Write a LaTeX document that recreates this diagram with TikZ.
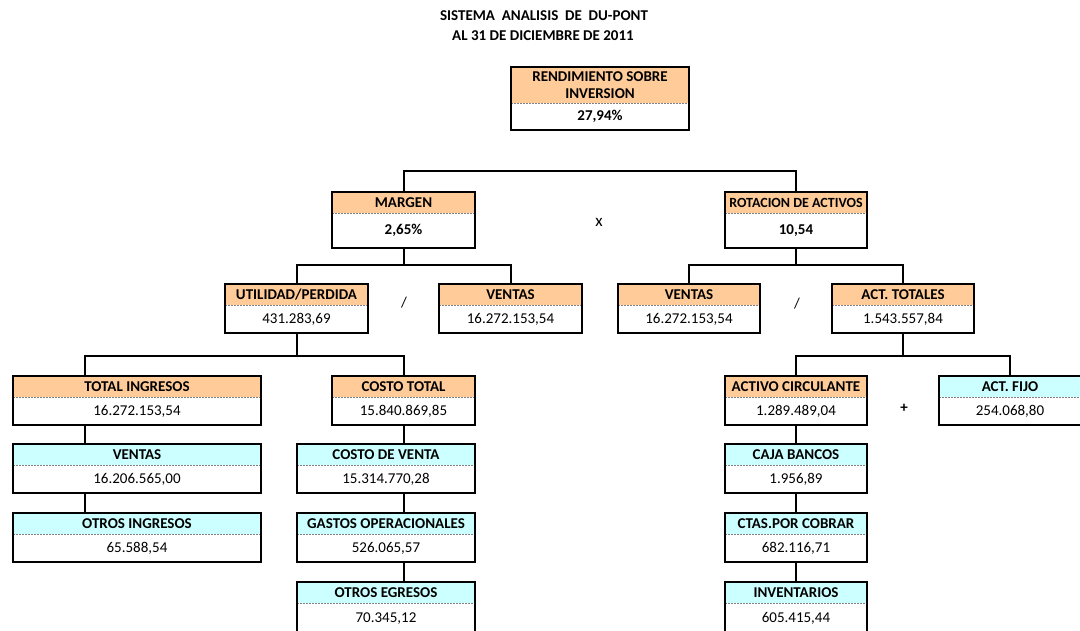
\documentclass[tikz,border=0pt]{standalone}
\usepackage{fontspec}
\setmainfont{Carlito}
\usetikzlibrary{positioning}
\def\tam{\fontsize{15}{18}\selectfont}
\definecolor{naranja}{RGB}{255,204,153}
\definecolor{celeste}{RGB}{204,255,255}
\tikzset{cab/.style={anchor=north,inner sep=0pt,minimum height=21pt,align=center,font=\tam\bfseries},
         cab rend/.style={minimum height=36pt,font=\fontsize{15}{17}\selectfont\bfseries},
         cab rot/.style={font=\fontsize{14}{16}\selectfont\bfseries},
         val/.style={anchor=north,inner sep=0pt,minimum height=27pt},
         sep/.style={gray,line width=1pt,dash pattern=on 2pt off 1pt},
         marco/.style={line width=2pt},
         linea/.style={line width=2pt}}
% caja: [estilo valor]{nombre}{posicion}{ancho}{color}{titulo}{valor}
\newcommand{\caja}[7][]{%
  \node[cab,fill=#5,minimum width=#4pt,cab #2/.try] (#2) at (#3) {#6};
  \node[val,minimum width=#4pt,#1] (#2v) at (#2.south) {#7};
  \draw[sep] (#2.south west) -- (#2.south east);
  \draw[marco] (#2.north west) rectangle (#2v.south east);
}

\begin{document}
\begin{tikzpicture}[x=1pt,y=-1pt,font=\tam]
\useasboundingbox (0,0) rectangle (1080,630);
       \node [font=\fontsize{15}{18}\selectfont\bfseries] at (544,16) (titulo) {SISTEMA\ \ ANALISIS\ \ DE\ \ DU-PONT};
       \node [font=\fontsize{15}{18}\selectfont\bfseries] at (543,36) (fecha) {AL 31 DE DICIEMBRE DE 2011};
%
       \caja[font=\tam\bfseries,minimum height=26pt]{rend}{600,67}{178}{naranja}{RENDIMIENTO SOBRE\\INVERSION}{27,94\%}
       \caja[font=\tam\bfseries,minimum height=34pt]{margen}{403.5,192}{143}{naranja}{MARGEN}{2,65\%}
       \caja[font=\tam\bfseries,minimum height=34pt]{rot}{796,192}{142}{naranja}{ROTACION DE ACTIVOS}{10,54}
%
       \caja{util}{296.5,284}{143}{naranja}{UTILIDAD/PERDIDA}{431.283,69}
       \caja{vent}{510.5,284}{143}{naranja}{VENTAS}{16.272.153,54}
       \caja{ventr}{689,284}{142}{naranja}{VENTAS}{16.272.153,54}
       \caja{actot}{903,284}{142}{naranja}{ACT. TOTALES}{1.543.557,84}
%
       \caja{ting}{137,376}{248}{naranja}{TOTAL INGRESOS}{16.272.153,54}
       \caja{costo}{403.5,376}{143}{naranja}{COSTO TOTAL}{15.840.869,85}
       \caja{acirc}{796,376}{142}{naranja}{ACTIVO CIRCULANTE}{1.289.489,04}
       \caja{afijo}{1010,376}{142}{celeste}{ACT. FIJO}{254.068,80}
%
       \caja{ventas}{137,444}{248}{celeste}{VENTAS}{16.206.565,00}
       \caja{otring}{137,513}{248}{celeste}{OTROS INGRESOS}{65.588,54}
       \caja{cventa}{386,444}{178}{celeste}{COSTO DE VENTA}{15.314.770,28}
       \caja{gastos}{386,513}{178}{celeste}{GASTOS OPERACIONALES}{526.065,57}
       \caja[minimum height=30pt]{otreg}{386,582}{178}{celeste}{OTROS EGRESOS}{70.345,12}
       \caja{caja}{796,444}{142}{celeste}{CAJA BANCOS}{1.956,89}
       \caja{ctas}{796,513}{142}{celeste}{CTAS.POR COBRAR}{682.116,71}
       \caja[minimum height=30pt]{inv}{796,582}{142}{celeste}{INVENTARIOS}{605.415,44}
%
       \node [font=\fontsize{17}{18}\selectfont] at (599,222) (por) {x};
       \node at (404,303) (div1) {/};
       \node at (797,304) (div2) {/};
       \node [font=\tam\bfseries] at (904,408) (mas) {+};
%
\draw[linea] (margen.north) -- ++(0,-21) -| (rot.north);
\draw[linea] (margenv.south) -- ++(0,17) coordinate (b1);
\draw[linea] (util.north) |- (b1) -| (vent.north);
\draw[linea] (rotv.south) -- ++(0,17) coordinate (b2);
\draw[linea] (ventr.north) |- (b2) -| (actot.north);
\draw[linea] (utilv.south) -- ++(0,23) coordinate (b3);
\draw[linea] ([xshift=-52pt]ting.north) |- (b3) -| (costo.north);
\draw[linea] (actotv.south) -- ++(0,23) coordinate (b4);
\draw[linea] (acirc.north) |- (b4) -| (afijo.north);
\draw[linea] ([xshift=-52pt]tingv.south) -- ([xshift=-52pt]ventas.north);
\draw[linea] ([xshift=-52pt]ventasv.south) -- ([xshift=-52pt]otring.north);
\draw[linea] (costov.south) -- (costov.south |- cventa.north);
\draw[linea] (cventav.south -| costo.north) -- (gastos.north -| costo.north);
\draw[linea] (gastosv.south -| costo.north) -- (otreg.north -| costo.north);
\draw[linea] (acircv.south) -- (caja.north);
\draw[linea] (cajav.south) -- (ctas.north);
\draw[linea] (ctasv.south) -- (inv.north);
\end{tikzpicture}
\end{document}
